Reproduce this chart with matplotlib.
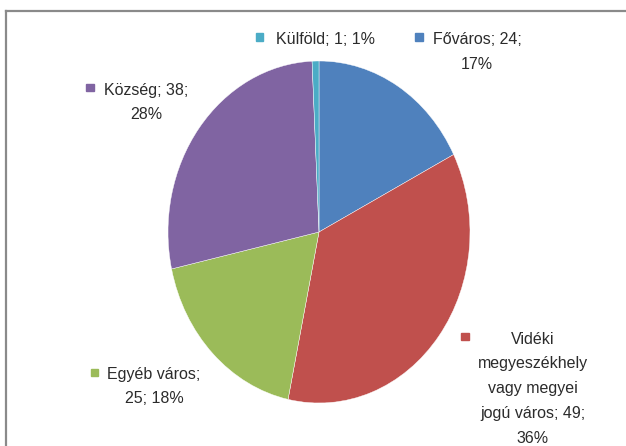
import matplotlib
matplotlib.use('Agg')
import matplotlib.pyplot as plt
from matplotlib.patches import Rectangle
from matplotlib.lines import Line2D

# data (clockwise from 12 o'clock)
categories = ['Főváros', 'Vidéki megyeszékhely vagy megyei jogú város',
              'Egyéb város', 'Község', 'Külföld']
values = [24, 49, 25, 38, 1]
percents = [17, 36, 18, 28, 1]
colors = ['#4F81BD', '#C0504D', '#9BBB59', '#8064A2', '#4BACC6']
label_lines = [
    ['Főváros; 24;', '17%'],
    ['Vidéki', 'megyeszékhely', 'vagy megyei', 'jogú város; 49;', '36%'],
    ['Egyéb város;', '25; 18%'],
    ['Község; 38;', '28%'],
    ['Külföld; 1; 1%'],
]

W, H = 626, 446
fig = plt.figure(figsize=(W / 100, H / 100), dpi=100)

def fx(x):
    return x / W

def fy(y):
    return 1 - y / H

# outer frame (only left and top edges visible)
fig.add_artist(Line2D([fx(6), fx(6)], [fy(10.5), 0], color='#8a8a8a', lw=1.6))
fig.add_artist(Line2D([fx(6), 1], [fy(10.5), fy(10.5)], color='#8a8a8a', lw=1.6))

# pie is slightly taller than wide in the reference
ax = fig.add_axes([fx(168), fy(403), (470 - 168) / W, (403 - 61) / H])
ax.pie(values, colors=colors, startangle=90, counterclock=False,
       wedgeprops=dict(edgecolor='white', linewidth=0.3))
ax.set_aspect('auto')
ax.set_xlim(-1, 1)
ax.set_ylim(-1, 1)
ax.axis('off')

# label placement: text center x, first line y, marker center (px)
label_pos = [
    (477, 40, 419, 37),
    (533, 339, 465, 336.5),
    (154, 374, 94.5, 372.5),
    (146, 90, 90, 87.5),
    (326, 40, 259.5, 37),
]
step = 24.8
for lines, (tx, ty, mx, my), c in zip(label_lines, label_pos, colors):
    for i, s in enumerate(lines):
        fig.text(fx(tx), fy(ty + i * step), s, ha='center', va='center',
                 family='Liberation Sans', fontsize=11.5, color='#2b2b2b')
    fig.add_artist(Rectangle((fx(mx - 3.8), fy(my + 3.8)), 7.6 / W, 7.6 / H,
                             color=c, transform=fig.transFigure))

fig.savefig('out.png', dpi=100)
